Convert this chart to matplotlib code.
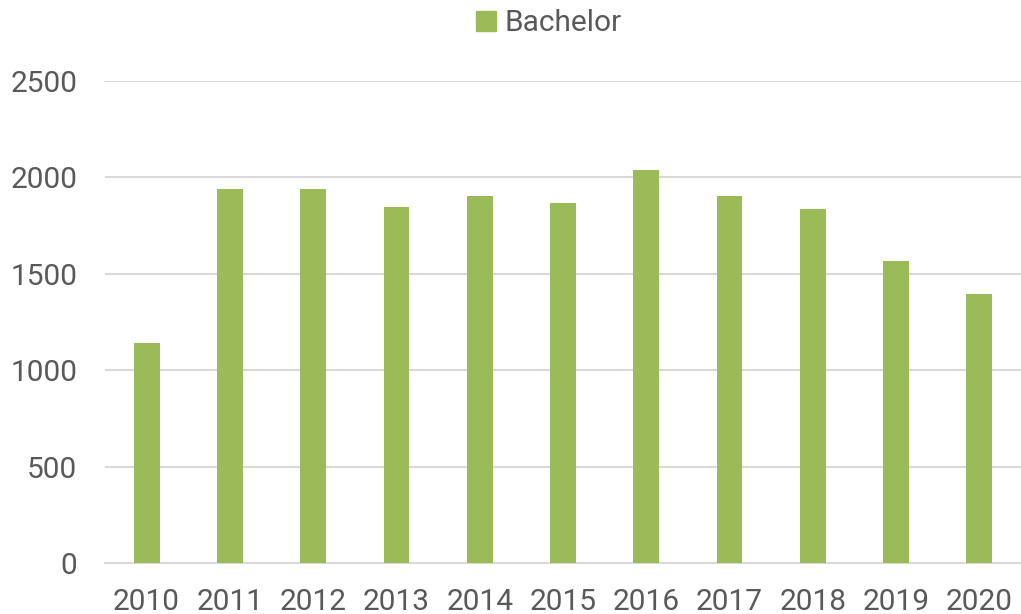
import matplotlib.pyplot as plt
from matplotlib.patches import Patch

plt.rcParams['font.family'] = ['Roboto', 'DejaVu Sans']

years = ['2010', '2011', '2012', '2013', '2014', '2015',
         '2016', '2017', '2018', '2019', '2020']
bachelor = [1142, 1938, 1941, 1847, 1903, 1868, 2040, 1905, 1837, 1568, 1396]

green = '#9bbb59'
text_color = '#595959'

fig = plt.figure(figsize=(10.21, 6.14), dpi=100)
ax = fig.add_axes([0.1028, 0.0826, 0.8972, 0.7855])

x = range(len(years))
ax.bar(x, bachelor, width=0.31, color=green, zorder=3)

ax.set_xlim(-0.5, len(years) - 0.5)
ax.set_ylim(0, 2500)
ax.set_yticks(range(0, 2501, 500))
ax.set_xticks(list(x))
ax.set_xticklabels(years)

ax.grid(axis='y', color='#d9d9d9', lw=1.5, zorder=0)
for s in ['top', 'right', 'left']:
    ax.spines[s].set_visible(False)
ax.spines['bottom'].set_color('#d9d9d9')
ax.spines['bottom'].set_linewidth(1.5)

ax.tick_params(axis='both', length=0, labelsize=21.5, labelcolor=text_color)
ax.tick_params(axis='x', pad=18)
ax.tick_params(axis='y', pad=20)

fig.legend(handles=[Patch(color=green, label='Bachelor')],
           loc='center', bbox_to_anchor=(0.538, 0.962), frameon=False,
           fontsize=21.5, labelcolor=text_color, handlelength=0.65,
           handleheight=0.65, handletextpad=0.3)

fig.savefig('out.png', dpi=100)
